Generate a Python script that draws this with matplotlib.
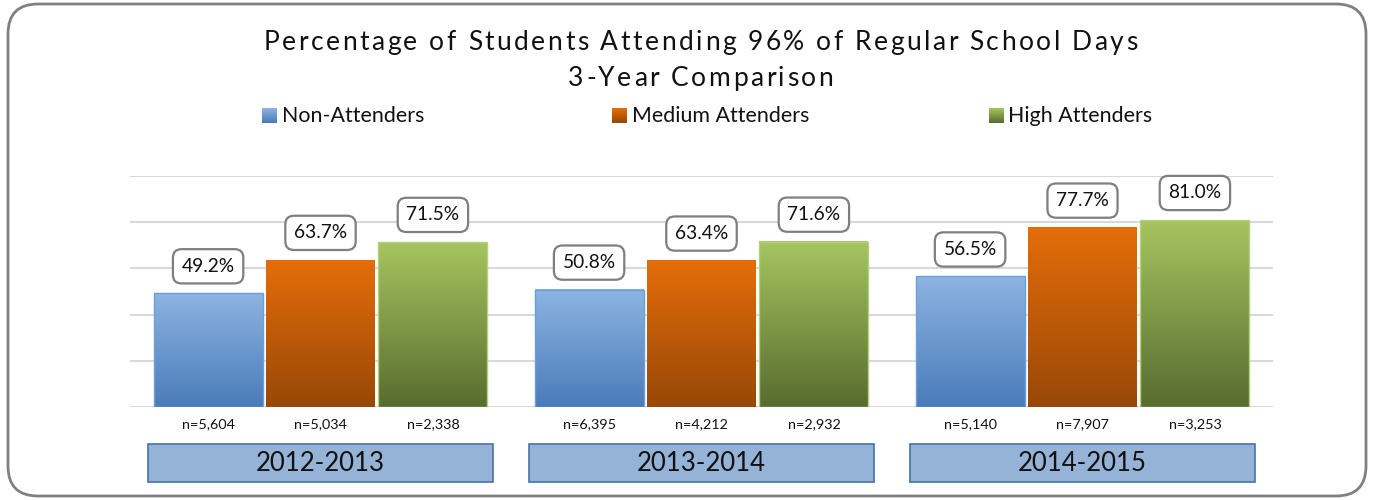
import numpy as np
import matplotlib
matplotlib.use("Agg")
import matplotlib.pyplot as plt
from matplotlib.patches import FancyBboxPatch, Rectangle
from matplotlib.transforms import IdentityTransform, blended_transform_factory
from matplotlib.font_manager import FontProperties
import matplotlib.colors as mcolors

# ---------------- data ----------------
years = ["2012-2013", "2013-2014", "2014-2015"]
series_names = ["Non-Attenders", "Medium Attenders", "High Attenders"]
non_attenders = [49.2, 50.8, 56.5]
medium_attenders = [63.7, 63.4, 77.7]
high_attenders = [71.5, 71.6, 81.0]
n_non = ["5,604", "6,395", "5,140"]
n_medium = ["5,034", "4,212", "7,907"]
n_high = ["2,338", "2,932", "3,253"]
title_lines = ["Percentage of Students Attending 96% of Regular School Days",
               "3-Year Comparison"]
grid_values = [0, 20, 40, 60, 80, 100]

# ---------------- style ----------------
W, H = 1374, 500
FONT = "Lato"
plt.rcParams["font.family"] = [FONT, "DejaVu Sans"]

gradients = [("#8db4e2", "#4a7bb9"),
             ("#e56d0a", "#984807"),
             ("#a6c55f", "#586c30")]
edges = ["#6a9fdc", "none", "#b4d17e"]

fig = plt.figure(figsize=(W / 100, H / 100), dpi=100)
renderer = fig.canvas.get_renderer()

# outer rounded frame (pixel coords)
frame = FancyBboxPatch((8, 4), W - 16, H - 8,
                       boxstyle="round,pad=0,rounding_size=30",
                       transform=IdentityTransform(), fc="none",
                       ec="#808080", lw=2.0, zorder=-10)
fig.patches.append(frame)

ax_left, ax_right = 130, 1273
base_y, top_y = 406.7, 176.2
ax = fig.add_axes([ax_left / W, 1 - base_y / H,
                   (ax_right - ax_left) / W, (base_y - top_y) / H])
ax.set_facecolor("none")
for s in ax.spines.values():
    s.set_visible(False)
ax.set_yticks(grid_values)
ax.set_xticks([])
ax.tick_params(left=False, labelleft=False)
ax.grid(axis="y", color="#d9d9d9", lw=1.5, zorder=0)
ax.set_axisbelow(True)

x = np.arange(len(years))
width = 0.286
offsets = [-0.295, 0.0, 0.295]
all_vals = [non_attenders, medium_attenders, high_attenders]
all_n = [n_non, n_medium, n_high]


def grad_array(k, n=256):
    top_c = np.array(mcolors.to_rgb(gradients[k][0]))
    bot_c = np.array(mcolors.to_rgb(gradients[k][1]))
    t = np.linspace(0, 1, n)[:, None, None]
    return top_c[None, None, :] * (1 - t) + bot_c[None, None, :] * t


for k, (vals, nlab) in enumerate(zip(all_vals, all_n)):
    bars = ax.bar(x + offsets[k], vals, width, facecolor="none",
                  edgecolor=edges[k], lw=1.0, zorder=3)
    arr = grad_array(k)
    for b, v, nl in zip(bars, vals, nlab):
        x0 = b.get_x()
        x1 = x0 + b.get_width()
        ax.imshow(arr, extent=(x0, x1, 0, b.get_height()), aspect="auto",
                  origin="upper", interpolation="bilinear", zorder=2)
        xc = x0 + b.get_width() / 2
        ax.annotate(f"{v:.1f}%", xy=(xc, v), xytext=(0, 27),
                    textcoords="offset pixels", ha="center", va="center",
                    fontsize=13.8, color="#111111", annotation_clip=False,
                    bbox=dict(boxstyle="round,pad=0.45,rounding_size=0.45",
                              fc="white", ec="#7f7f7f", lw=1.6))
        ax.annotate(f"n={nl}", xy=(xc, 0), xytext=(0, -17),
                    textcoords="offset pixels", ha="center", va="center",
                    fontsize=10.4, color="#111111", annotation_clip=False)

ax.set_xlim(-0.5, 2.5)
ax.set_ylim(0, 100)

# year boxes
axh = base_y - top_y
trans = blended_transform_factory(ax.transData, ax.transAxes)
yb0 = (base_y - 482.3) / axh
yb1 = (base_y - 444.3) / axh
for xi, yr in zip(x, years):
    ax.add_patch(Rectangle((xi - 0.454, yb0), 0.908, yb1 - yb0,
                           transform=trans, fc="#95b3d7", ec="#4a72a8",
                           lw=1.2, clip_on=False, zorder=3))
    ax.text(xi, (yb0 + yb1) / 2, yr, transform=trans, ha="center",
            va="center", fontsize=18.5, color="#111111", zorder=4)

# title with slight letter spacing
title_fp = FontProperties(family=FONT, size=19)


def text_w(s):
    w, _, _ = renderer.get_text_width_height_descent(s, title_fp, ismath=False)
    return w


def prefix_positions(s):
    bar_w = text_w("|")
    return [text_w(s[:i] + "|") - bar_w for i in range(len(s))], text_w(s)


target_w = 874.0
pos0, nat0 = prefix_positions(title_lines[0])
tracking = (target_w - nat0) / (len(title_lines[0]) - 1)

for line, yb in zip(title_lines, [50, 86]):
    pos, nat = prefix_positions(line)
    total = nat + tracking * (len(line) - 1)
    start = 700.5 - total / 2
    for i, ch in enumerate(line):
        if ch == " ":
            continue
        fig.text((start + pos[i] + tracking * i) / W, 1 - yb / H, ch,
                 ha="left", va="baseline", fontproperties=title_fp,
                 color="#111111")

# legend (manual, gradient squares)
leg_sq_x = [262, 612, 989]
leg_y = 115.5
sq = 14.5
for k, name in enumerate(series_names):
    lax = fig.add_axes([leg_sq_x[k] / W, 1 - (leg_y + sq / 2) / H, sq / W, sq / H])
    lax.imshow(grad_array(k, 32), aspect="auto", interpolation="bilinear")
    lax.axis("off")
    fig.text((leg_sq_x[k] + sq + 5) / W, 1 - (leg_y + 7) / H, name, ha="left",
             va="baseline", fontsize=15.4, color="#111111")

fig.savefig("out.png", dpi=100)
